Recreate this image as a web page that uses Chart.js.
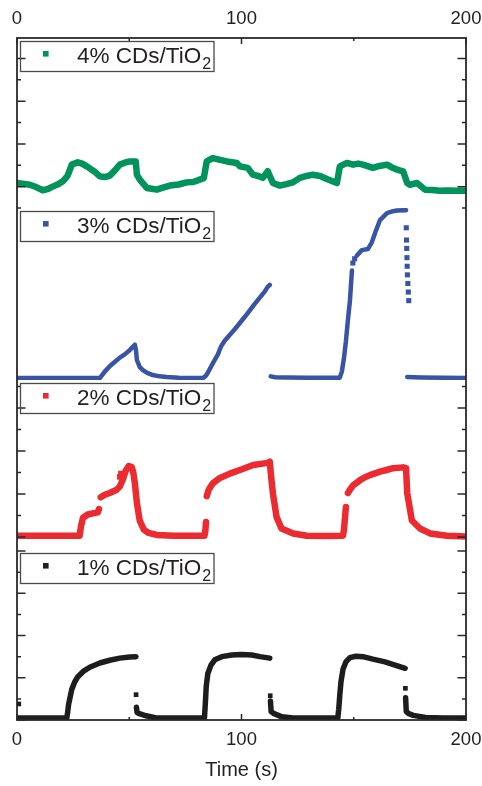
<!DOCTYPE html>
<html>
<head>
<meta charset="utf-8">
<script src="https://cdn.jsdelivr.net/npm/chart.js@4/dist/chart.umd.min.js"></script>
<style>
  html, body { margin: 0; padding: 0; background: #fff; }
  #wrap { width: 482px; height: 786px; }
</style>
</head>
<body>
<div id="wrap"><canvas id="chart" width="482" height="786"></canvas></div>
<script>
// Time axis (s)
const timeMin = 0;
const timeMax = 200;
const timeLabelStep = 100;

// Panel labels, top to bottom
const panelLabels = ['4% CDs/TiO', '3% CDs/TiO', '2% CDs/TiO', '1% CDs/TiO'];
const panelSubscript = '2';

// 4% CDs/TiO2 photocurrent (a.u.)
const time4 = [0, 2.5, 5.7, 8.5, 11.5, 13.5, 15.9, 18.5, 20.4, 22.5, 24.4, 27.1, 29, 31.1, 34.6, 36.9, 39, 41.3, 43.5, 45.8, 48, 50.2, 52.9, 53.4, 54.7, 57.8, 60, 62.3, 65, 68.1, 72, 75.6, 78.5, 81.4, 83.2, 84.5, 87.2, 90.5, 93.5, 97.9, 99.3, 102.8, 105.1, 107.5, 109.5, 111.7, 112.8, 114, 117.1, 120, 122.9, 126, 129, 131.8, 135, 138, 142.5, 143.8, 147, 149.7, 152, 154.1, 156.5, 158.5, 161.5, 164.8, 167, 169.2, 172, 173.8, 175, 178.2, 181.7, 185, 188.4, 192, 196, 200];
const current4 = [0.17, 0.14, 0.09, -0.02, -0.17, -0.12, 0.0, 0.12, 0.25, 0.5, 1.03, 1.14, 1.08, 0.95, 0.70, 0.48, 0.45, 0.51, 0.75, 1.03, 1.12, 1.18, 1.18, 0.56, 0.33, -0.06, -0.10, -0.14, -0.05, 0.05, 0.1, 0.20, 0.22, 0.33, 0.40, 1.18, 1.34, 1.25, 1.18, 1.11, 0.95, 0.88, 0.56, 0.50, 0.41, 0.72, 0.45, 0.17, 0.05, 0.12, 0.20, 0.41, 0.5, 0.56, 0.50, 0.36, 0.17, 0.95, 1.11, 1.03, 1.08, 1.03, 0.95, 0.88, 0.97, 1.03, 0.9, 0.80, 0.72, 0.17, 0.09, 0.17, -0.14, -0.16, -0.19, -0.18, -0.19, -0.19];

// 3% CDs/TiO2 photocurrent (a.u.); null marks a gap in the trace
const time3 = [0, 20, 36.9, 39.1, 41.3, 43.5, 45.8, 48.0, 50.2, 51.6, 52.5, 53.0, 53.4, 54.7, 56.1, 58, 60.5, 63.5, 66.7, 72, 81.4, 82.8, 84.1, 85.0, 86.8, 88.1, 89.5, 90.4, 91.2, 92.6, 97.0, 101.5, 105.9, 110.4, 111.7, 112.6, 112.8, 113.0, 115, 120, 130, 140, 143.8, 144.7, 145.6, 146.5, 147.4, 148.3, 149.2, 149.5, 151.4, 153.6, 156.3, 158.0, 159.5, 161.7, 164.8, 167.5, 169.2, 173.3, 173.5, 173.8, 180, 190, 200];
const current3 = [0, 0, 0, 0.3, 0.55, 0.75, 0.95, 1.1, 1.3, 1.45, 1.55, 1.3, 0.84, 0.51, 0.37, 0.24, 0.14, 0.08, 0.05, 0.02, 0, 0, 0.1, 0.25, 0.6, 0.85, 1.1, 1.35, 1.53, 1.75, 2.27, 2.85, 3.45, 4.03, 4.25, 4.33, null, 0.08, 0.04, 0.03, 0.02, 0.02, 0.02, 0.3, 0.9, 1.7, 2.7, 3.6, 5.0, null, 5.7, 5.95, 6.0, 6.3, 6.75, 7.35, 7.67, 7.76, 7.79, 7.81, null, 0.05, 0.03, 0.02, 0];
// isolated samples during fast transients
const dotTime3 = [149.6, 150.4, 173.4, 173.5, 173.6, 173.7, 173.8, 173.9, 174.1, 174.3, 174.5];
const dotCurrent3 = [5.35, 5.55, 6.99, 6.42, 6.03, 5.6, 5.2, 4.8, 4.4, 4.0, 3.6];

// 2% CDs/TiO2 photocurrent (a.u.)
const time2 = [0, 15, 27.9, 28.5, 29.4, 31.5, 33.7, 36.0, 36.5, 36.9, 37.3, 39.1, 41.3, 44.4, 45.8, 47.2, 48.5, 49.8, 51.1, 51.8, 52.5, 53.4, 54.7, 56.5, 58.5, 62.3, 70, 83.5, 83.9, 84.2, 84.35, 84.5, 85.4, 87.2, 90.4, 94.8, 99.3, 105.2, 111.7, 112.6, 113.2, 114.0, 115.6, 117.8, 123.0, 129.1, 137, 145.2, 145.6, 146.1, 146.5, 146.9, 147.4, 148.3, 149.7, 151.7, 152.8, 155, 157.2, 161.7, 165, 167.5, 172.0, 173.3, 173.8, 175.9, 179.5, 184.0, 191.5, 200];
const current2 = [0.06, 0.06, 0.06, 0.5, 0.9, 1.05, 1.1, 1.15, 1.3, null, 1.85, 1.97, 2.05, 2.2, 2.35, 2.7, 3.1, 3.3, 3.25, 3.0, 2.5, 1.6, 0.75, 0.35, 0.2, 0.1, 0.06, 0.06, 0.3, 0.7, null, 1.9, 2.2, 2.5, 2.75, 2.95, 3.12, 3.35, 3.45, 3.5, 2.8, 2.03, 0.94, 0.4, 0.17, 0.06, 0.05, 0.06, 0.3, 0.9, 1.4, null, 2.05, 2.2, 2.4, 2.55, 2.65, 2.78, 2.88, 3.04, 3.13, 3.2, 3.24, 3.2, 2.05, 0.77, 0.4, 0.17, 0.06, 0.03];
const dotTime2 = [45.8, 46.3];
const dotCurrent2 = [2.8, 2.95];

// 1% CDs/TiO2 photocurrent (a.u.)
const time1 = [0, 10, 22.2, 22.6, 23.0, 23.5, 24.4, 25.7, 27.1, 29.5, 32.4, 36.9, 41.3, 45.8, 50.2, 53.0, 53.1, 53.2, 53.5, 54.5, 57.5, 62, 70, 83.5, 83.9, 84.3, 85.0, 86.4, 88.1, 91.2, 95.7, 100.0, 104.6, 108.2, 112.6, 112.75, 112.9, 113.2, 114.5, 118, 123, 135, 142.9, 143.3, 143.8, 144.3, 145.2, 146.5, 148.3, 151.0, 154.1, 158.5, 163.9, 168.4, 172.9, 173.05, 173.1, 173.4, 174.5, 176.5, 182, 190, 200];
const current1 = [0.1, 0.1, 0.1, 0.4, 0.75, 1.0, 1.45, 1.8, 2.05, 2.3, 2.5, 2.7, 2.83, 2.93, 2.98, 3.0, null, 0.6, 0.35, 0.3, 0.2, 0.1, 0.1, 0.1, 0.8, 1.6, 2.2, 2.6, 2.85, 3.0, 3.08, 3.1, 3.08, 3.0, 2.93, null, 0.9, 0.4, 0.3, 0.15, 0.1, 0.1, 0.1, 0.5, 1.2, 1.8, 2.4, 2.75, 2.95, 3.02, 3.0, 2.88, 2.75, 2.6, 2.45, null, 1.05, 0.4, 0.3, 0.22, 0.12, 0.1, 0.1];
const dotTime1 = [0.8, 53.05, 112.8, 173.0];
const dotCurrent1 = [0.76, 1.2, 1.15, 1.5];

// Per-panel y ranges (one minor tick per unit)
const panelMin = [-1, -0.09, -0.6, 0];
const panelMax = [6.96, 7.91, 7.3, 8.05];
const panelWeight = [170, 172, 170, 170];

const colors = ['#00935b', '#3a54a5', '#ec2b30', '#1d1d1d'];
const lineWidths = [6.5, 4.5, 6.5, 5.5];
const dotRadius = [0, 3.6, 4, 3.3];

const axisIds = ['yG', 'yB', 'yR', 'yK'];
const FONT = 'Arial, "Liberation Sans", sans-serif';
const INK = '#231f20';

function pairs(xs, ys) { return xs.map((x, i) => ({ x: x, y: ys[i] })); }

const traces = [
  [time4, current4, [], []],
  [time3, current3, dotTime3, dotCurrent3],
  [time2, current2, dotTime2, dotCurrent2],
  [time1, current1, dotTime1, dotCurrent1]
];

const datasets = [];
traces.forEach((tr, p) => {
  datasets.push({
    label: panelLabels[p] + panelSubscript,
    data: pairs(tr[0], tr[1]),
    yAxisID: axisIds[p],
    borderColor: colors[p],
    backgroundColor: colors[p],
    borderWidth: lineWidths[p],
    borderJoinStyle: 'round',
    borderCapStyle: 'round',
    pointRadius: 0,
    tension: 0,
    spanGaps: false
  });
  if (tr[2].length) {
    datasets.push({
      label: panelLabels[p] + panelSubscript + ' samples',
      data: pairs(tr[2], tr[3]),
      yAxisID: axisIds[p],
      showLine: false,
      pointStyle: 'rect',
      pointRadius: dotRadius[p],
      pointBorderWidth: 0,
      pointBackgroundColor: colors[p],
      borderColor: colors[p]
    });
  }
});

// x axes: invisible tick marks of fixed length keep the labels off the frame
const xTickFont = { family: FONT, size: 18.5 };
const scales = {
  x: {
    type: 'linear', position: 'bottom', min: timeMin, max: timeMax,
    grid: { display: false, drawTicks: true, tickLength: 8.4 },
    border: { display: false },
    ticks: {
      stepSize: 50, autoSkip: false, maxRotation: 0, padding: 0, color: INK,
      font: xTickFont,
      callback: v => (v % timeLabelStep === 0 ? String(v) : '')
    },
    title: { display: true, text: 'Time (s)', color: INK, font: { family: FONT, size: 20 }, padding: { top: 7.9, bottom: 3.5 } }
  },
  x2: {
    type: 'linear', position: 'top', min: timeMin, max: timeMax,
    grid: { display: false, drawTicks: true, tickLength: 7.9 },
    border: { display: false },
    ticks: {
      stepSize: 50, autoSkip: false, maxRotation: 0, padding: 0, color: INK,
      font: xTickFont,
      callback: v => (v % timeLabelStep === 0 ? String(v) : '')
    }
  }
};
// y scales stacked top-to-bottom on the left edge
axisIds.forEach((id, p) => {
  scales[id] = {
    type: 'linear', position: 'left', stack: 'panels', stackWeight: panelWeight[p],
    weight: 4 - p,
    min: panelMin[p], max: panelMax[p],
    grid: { display: false, drawTicks: false },
    border: { display: false },
    ticks: { display: false, stepSize: 1, includeBounds: false }
  };
});

// Frame and inward tick marks on all four sides
const frameTicks = {
  id: 'frameTicks',
  afterDatasetsDraw(chart) {
    const { ctx, chartArea: a, scales: sc } = chart;
    ctx.save();
    ctx.strokeStyle = '#2a2a2a';
    ctx.lineWidth = 1.5;
    ctx.beginPath();
    sc.x.ticks.forEach(tk => {
      const px = sc.x.getPixelForValue(tk.value);
      const len = tk.value % timeLabelStep === 0 ? 6 : 3;
      ctx.moveTo(px, a.top); ctx.lineTo(px, a.top + len);
      ctx.moveTo(px, a.bottom); ctx.lineTo(px, a.bottom - len);
    });
    axisIds.forEach(id => {
      const s = sc[id];
      s.ticks.forEach(tk => {
        if (Math.abs(tk.value - Math.round(tk.value)) > 1e-6) return;
        const py = s.getPixelForValue(tk.value);
        const len = Math.round(tk.value) % 2 === 0 ? 8.5 : 4;
        ctx.moveTo(a.left, py); ctx.lineTo(a.left + len, py);
        ctx.moveTo(a.right, py); ctx.lineTo(a.right - len, py);
      });
    });
    ctx.stroke();
    ctx.lineWidth = 1.8;
    ctx.strokeRect(a.left, a.top, a.right - a.left, a.bottom - a.top);
    ctx.restore();
  }
};

// One boxed legend entry at the top of each panel
const panelLegends = {
  id: 'panelLegends',
  afterDraw(chart) {
    const { ctx, chartArea: a } = chart;
    ctx.save();
    axisIds.forEach((id, p) => {
      const top = chart.scales[id].top + 3;
      const left = a.left + 3;
      ctx.strokeStyle = '#4a4a4a';
      ctx.lineWidth = 1.3;
      ctx.strokeRect(left + 0.5, top + 0.5, 193.5, 30);
      ctx.fillStyle = colors[p];
      ctx.fillRect(left + 23, top + 10, 5.6, 5.6);
      ctx.fillStyle = INK;
      ctx.textBaseline = 'alphabetic';
      ctx.textAlign = 'left';
      ctx.font = '22.5px ' + FONT;
      const tx = left + 57;
      const base = top + 21.5;
      ctx.fillText(panelLabels[p], tx, base);
      const w = ctx.measureText(panelLabels[p]).width;
      ctx.font = '16px ' + FONT;
      ctx.fillText(panelSubscript, tx + w + 1, base + 6);
    });
    ctx.restore();
  }
};

new Chart(document.getElementById('chart'), {
  type: 'line',
  data: { datasets },
  options: {
    responsive: false,
    animation: false,
    layout: { padding: { left: 17, right: 16, top: 7.9, bottom: 0 } },
    plugins: { legend: { display: false }, tooltip: { enabled: false } },
    scales
  },
  plugins: [frameTicks, panelLegends]
});
</script>
</body>
</html>
